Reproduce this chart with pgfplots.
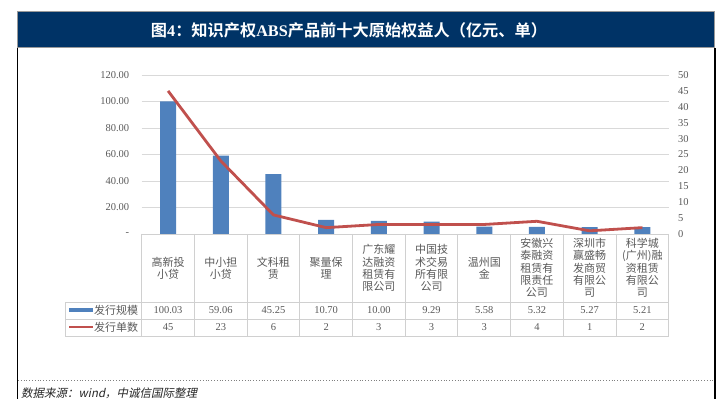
\documentclass[border=0pt]{standalone}
\usepackage{pgfplots}
\pgfplotsset{compat=1.18}
\usepackage{fontspec}
\setmainfont{Liberation Serif}
\newfontfamily\cjk{Noto Sans CJK SC}
\newfontfamily\cjkb{Noto Sans CJK SC Bold}
\newfontfamily\cjkit[FakeSlant=0.2]{Noto Sans CJK SC}
\definecolor{barblue}{HTML}{4F81BD}
\definecolor{linered}{HTML}{C0504D}
\definecolor{navy}{HTML}{003366}
\definecolor{txt}{HTML}{595959}
\definecolor{gridc}{HTML}{D9D9D9}
\definecolor{tabc}{HTML}{D0D0D0}
\begin{document}
\begin{tikzpicture}
\begin{axis}[
  at={(141.7pt,165pt)}, anchor=south west, scale only axis,
  width=527pt, height=159pt,
  xmin=-0.5, xmax=9.5, ymin=0, ymax=120,
  axis line style={draw=none}, tick style={draw=none}, major tick length=0pt,
  xtick={0,...,9},
  xticklabels={{高新投\\小贷},{中小担\\小贷},{文科租\\赁},{聚量保\\理},{广东耀\\达融资\\租赁有\\限公司},{中国技\\术交易\\所有限\\公司},{温州国\\金},{安徽兴\\泰融资\\租赁有\\限责任\\公司},{深圳市\\赢盛畅\\发商贸\\有限公\\司},{科学城\\(广州)融\\资租赁\\有限公\\司}},
  xticklabel style={anchor=center, yshift=-34pt, align=center, text=txt, font=\cjk\fontsize{11}{12.3}\selectfont},
  ytick={0,20,...,120},
  yticklabels={-,20.00,40.00,60.00,80.00,100.00,120.00},
  yticklabel style={text=txt, font=\fontsize{10.5}{12}\selectfont, xshift=-9pt},
  /pgf/number format/assume math mode=true,
  ymajorgrids, grid style={gridc, line width=0.9pt},
  clip=false,
]
\addplot[ybar, bar width=16pt, fill=barblue, draw=none] coordinates {(0,100.03)(1,59.06)(2,45.25)(3,10.70)(4,10.00)(5,9.29)(6,5.58)(7,5.32)(8,5.27)(9,5.21)};
\end{axis}
\begin{axis}[
  at={(141.7pt,165pt)}, anchor=south west, scale only axis,
  width=527pt, height=159pt,
  xmin=-0.5, xmax=9.5, ymin=0, ymax=50,
  axis y line*=right, hide x axis,
  axis line style={draw=none}, tick style={draw=none}, major tick length=0pt,
  ytick={0,5,...,50},
  yticklabel style={text=txt, font=\fontsize{10.5}{12}\selectfont, xshift=6pt},
  /pgf/number format/assume math mode=true,
  clip=false,
]
\addplot[linered, line width=2.8pt, mark=none] coordinates {(0,45)(1,23)(2,6)(3,2)(4,3)(5,3)(6,3)(7,4)(8,1)(9,2)};
\end{axis}
\begin{scope}[x=1pt,y=1pt]
% banner
\fill[navy] (17,351) rectangle (714,387);
\draw[gray!80, line width=1] (17,351) rectangle (714,387);
\node[text=white, inner sep=0] at (349,369) {{\cjkb\fontsize{16.2}{16}\selectfont 图}{\bfseries\fontsize{16.2}{16}\selectfont 4}{\cjkb\fontsize{16.2}{16}\selectfont ：知识产权}{\bfseries\fontsize{16.2}{16}\selectfont ABS}{\cjkb\fontsize{16.2}{16}\selectfont 产品前十大原始权益人（亿元、单）}};
% frame
\draw[black, line width=1.5] (17.5,351) -- (17.5,0);
\draw[black, line width=2] (714.5,351) -- (714.5,0);
\draw[gray, dotted, line width=0.8] (18,19) -- (714,19);
\node[anchor=west, inner sep=0, text=black!85] at (21,6) {\cjkit\fontsize{11.5}{12}\selectfont 数据来源：\textit{wind}，中诚信国际整理};
% data table
\draw[tabc, line width=0.9] (141.7,165) -- (668.7,165);
\draw[tabc, line width=0.9] (65,97) -- (668.7,97);
\draw[tabc, line width=0.9] (65,80) -- (668.7,80);
\draw[tabc, line width=0.9] (65,63) -- (668.7,63);
\foreach \k in {0,...,10} \draw[tabc, line width=0.9] (141.7+52.7*\k,165) -- (141.7+52.7*\k,63);
\draw[tabc, line width=0.9] (65,97) -- (65,63);
\fill[barblue] (69,87) rectangle (93,91.3);
\draw[linered, line width=2.8] (69,72) -- (93,72);
\node[anchor=west, inner sep=0, text=txt, font=\cjk\fontsize{11}{12}\selectfont] at (94,89) {发行规模};
\node[anchor=west, inner sep=0, text=txt, font=\cjk\fontsize{11}{12}\selectfont] at (94,72) {发行单数};
\foreach \v [count=\i from 0] in {100.03,59.06,45.25,10.70,10.00,9.29,5.58,5.32,5.27,5.21}
  \node[text=txt, font=\fontsize{10.5}{12}\selectfont] at (168.05+52.7*\i,88.5) {\v};
\foreach \v [count=\i from 0] in {45,23,6,2,3,3,3,4,1,2}
  \node[text=txt, font=\fontsize{10.5}{12}\selectfont] at (168.05+52.7*\i,71.5) {\v};
\end{scope}
\pgfresetboundingbox
\path[use as bounding box] (0pt,0pt) rectangle (719pt,399pt);
\end{tikzpicture}
\end{document}
